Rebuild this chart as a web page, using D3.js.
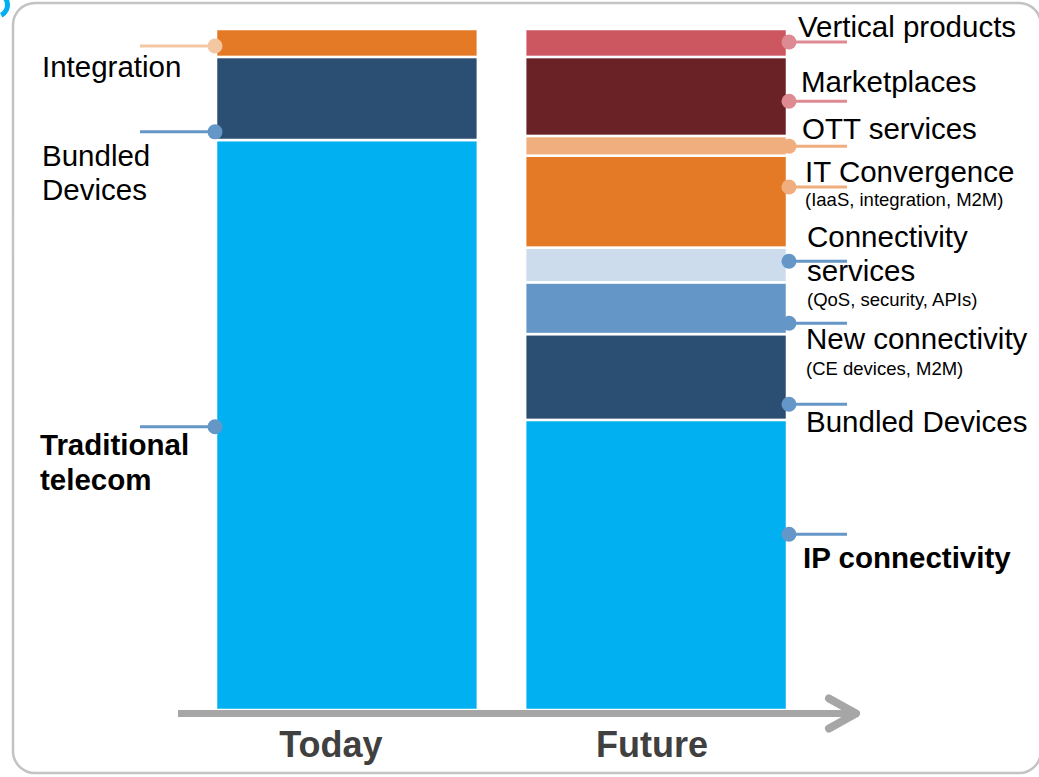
<!DOCTYPE html>
<html><head><meta charset="utf-8">
<script src="https://cdn.jsdelivr.net/npm/d3@7"></script>
<style>html,body{margin:0;padding:0;background:#fff;}svg{display:block;}</style>
</head><body>
<svg id="chart" width="1039" height="777"></svg>
<script>
// ---- data ----
const categories = ["Today", "Future"];
const todaySegments = ["Traditional telecom", "Bundled Devices", "Integration"];
const todayValues = [83.7, 12.2, 4.1];
const futureSegments = ["IP connectivity", "Bundled Devices", "New connectivity", "Connectivity services",
  "IT Convergence", "OTT services", "Marketplaces", "Vertical products"];
const futureValues = [42.6, 12.6, 7.6, 5.1, 13.5, 2.9, 11.6, 4.1];
const todayColors = ["#00b0f0", "#2b4f72", "#e47a25"];
const futureColors = ["#00b0f0", "#2b4f72", "#6497c7", "#ccdcec", "#e47a25", "#f0ae7e", "#6b2227", "#cd5760"];
// connector positions (value units) and labels
const todayConnectorAt = [41.6, 84.9, 97.5];
const todayConnectorColors = ["#6497c7", "#6497c7", "#f4c7a3"];
const todayLabels = [["Traditional", "telecom"], ["Bundled", "Devices"], ["Integration"]];
const futureConnectorAt = [25.8, 44.9, 56.8, 65.9, 76.8, 82.8, 89.4, 98.1];
const futureConnectorColors = ["#6497c7", "#6497c7", "#6497c7", "#6497c7", "#f0ae7e", "#f0ae7e", "#dd8a92", "#dd8a92"];
const futureLabels = [["IP connectivity"], ["Bundled Devices"], ["New connectivity", "(CE devices, M2M)"],
  ["Connectivity", "services", "(QoS, security, APIs)"], ["IT Convergence", "(IaaS, integration, M2M)"],
  ["OTT services"], ["Marketplaces"], ["Vertical products"]];

// ---- layout ----
const svg = d3.select("#chart");
const font = "Arial, 'Liberation Sans', sans-serif";
const x = d3.scaleBand().domain(categories).range([216, 787]).paddingInner(0.153).paddingOuter(0);
const y = d3.scaleLinear().domain([0, 100]).range([710, 29]);

// frame
svg.append("rect").attr("x", 13).attr("y", 3).attr("width", 1028).attr("height", 770)
  .attr("rx", 22).attr("ry", 22).attr("fill", "none").attr("stroke", "#c3c3c3").attr("stroke-width", 2.5);
// corner decoration
svg.append("path").attr("d", d3.arc()({innerRadius: 9, outerRadius: 14, startAngle: 0, endAngle: Math.PI * 0.85}))
  .attr("transform", "translate(-4,5)").attr("fill", "#00b0f0");

function stackOf(values) {
  let acc = 0;
  return values.map(v => { const s = {y0: acc, y1: acc + v}; acc += v; return s; });
}

function drawBar(cat, values, colors) {
  const st = stackOf(values);
  svg.append("g").selectAll("rect").data(st).join("rect")
    .attr("x", x(cat)).attr("width", x.bandwidth())
    .attr("y", d => y(d.y1)).attr("height", d => y(d.y0) - y(d.y1))
    .attr("fill", (d, i) => colors[i]).attr("stroke", "#fff").attr("stroke-width", 2.5);
}
drawBar("Today", todayValues, todayColors);
drawBar("Future", futureValues, futureColors);

// axis arrow
const axisY = 713.5;
svg.append("line").attr("x1", 178).attr("x2", 856).attr("y1", axisY).attr("y2", axisY)
  .attr("stroke", "#a6a6a6").attr("stroke-width", 7);
svg.append("path").attr("d", `M829,${axisY - 15} L856,${axisY} L829,${axisY + 15}`)
  .attr("fill", "none").attr("stroke", "#a6a6a6").attr("stroke-width", 8)
  .attr("stroke-linecap", "round").attr("stroke-linejoin", "round");

// category labels
const catOffsets = {Today: -16, Future: -4};
svg.selectAll("text.cat").data(categories).join("text").attr("class", "cat")
  .attr("x", d => x(d) + x.bandwidth() / 2 + catOffsets[d]).attr("y", 757)
  .attr("text-anchor", "middle").attr("font-family", font).attr("font-weight", "bold")
  .attr("font-size", 36).attr("fill", "#404040").text(d => d);

// today connectors (left side)
const todayLineDy = [[28, 63], [34, 68], [31]];
const todayBold = [true, false, false];
todayConnectorAt.forEach((v, i) => {
  const cy = y(v), cx = x("Today") - 1;
  svg.append("line").attr("x1", 140).attr("x2", cx).attr("y1", cy).attr("y2", cy)
    .attr("stroke", todayConnectorColors[i]).attr("stroke-width", 3);
  svg.append("circle").attr("cx", cx).attr("cy", cy).attr("r", 7.5).attr("fill", todayConnectorColors[i]);
  todayLabels[i].forEach((t, j) => {
    svg.append("text").attr("x", todayBold[i] ? 40 : 42).attr("y", cy + todayLineDy[i][j])
      .attr("font-family", font).attr("font-size", 29.5)
      .attr("font-weight", todayBold[i] ? "bold" : "normal").attr("fill", "#000").text(t);
  });
});

// future connectors (right side)
const futureLineDy = [[34], [28], [26, 52], [-14, 20, 45], [-5, 19], [-7], [-9], [-5]];
const futureDx = [16, 19, 19, 20, 18, 15, 14, 11];
const futureBold = [true, false, false, false, false, false, false, false];
futureConnectorAt.forEach((v, i) => {
  const cy = y(v), cx = x("Future") + x.bandwidth() + 2;
  svg.append("line").attr("x1", cx).attr("x2", cx + 58).attr("y1", cy).attr("y2", cy)
    .attr("stroke", futureConnectorColors[i]).attr("stroke-width", 3);
  svg.append("circle").attr("cx", cx).attr("cy", cy).attr("r", 7.5).attr("fill", futureConnectorColors[i]);
  futureLabels[i].forEach((t, j) => {
    const sub = t.startsWith("(");
    svg.append("text").attr("x", x("Future") + x.bandwidth() + futureDx[i])
      .attr("y", cy + futureLineDy[i][j])
      .attr("font-family", font).attr("font-size", sub ? 18.5 : 29.5)
      .attr("font-weight", futureBold[i] ? "bold" : "normal").attr("fill", "#000").text(t);
  });
});
</script>
</body></html>
